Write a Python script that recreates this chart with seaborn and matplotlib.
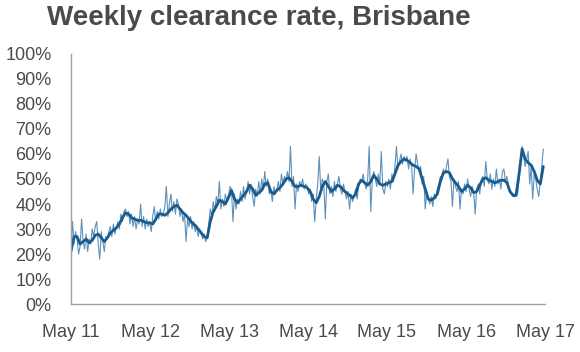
import pandas as pd
import matplotlib
matplotlib.use("Agg")
import matplotlib.pyplot as plt
from matplotlib.ticker import FuncFormatter, MultipleLocator
import seaborn as sns

# weekly clearance rate (%), one value per week from May 2011
weekly = [
    21, 33, 24, 29, 26, 20, 23, 34, 25, 22, 28, 21, 26,
    24, 30, 27, 31, 33, 24, 18, 29, 25, 21, 27, 26, 29,
    31, 27, 32, 28, 31, 33, 30, 36, 33, 37, 38, 35, 37,
    32, 36, 31, 35, 30, 34, 32, 40, 31, 35, 30, 34, 31,
    33, 29, 35, 39, 33, 37, 34, 38, 35, 36, 39, 47, 35,
    40, 44, 37, 41, 36, 42, 40, 35, 38, 33, 36, 25, 34,
    31, 35, 30, 33, 29, 31, 27, 30, 28, 26, 28, 25, 27,
    32, 38, 35, 41, 37, 43, 40, 49, 38, 42, 39, 44, 41,
    43, 47, 46, 33, 44, 38, 42, 40, 45, 41, 47, 42, 45,
    49, 44, 48, 43, 39, 46, 43, 49, 44, 50, 46, 53, 47,
    50, 44, 46, 41, 47, 44, 46, 49, 45, 52, 48, 51, 49,
    53, 49, 63, 47, 51, 38, 48, 45, 49, 47, 50, 46, 48,
    47, 44, 46, 41, 44, 33, 42, 48, 59, 45, 50, 48, 34,
    49, 52, 44, 47, 43, 49, 45, 48, 51, 46, 44, 48, 45,
    42, 45, 38, 44, 41, 43, 46, 42, 47, 50, 49, 52, 48,
    46, 50, 63, 37, 49, 53, 50, 47, 52, 48, 61, 46, 44,
    49, 47, 50, 46, 52, 49, 55, 63, 54, 57, 60, 56, 59,
    57, 59, 54, 58, 55, 44, 54, 60, 56, 53, 55, 48, 51,
    38, 45, 42, 40, 43, 39, 44, 42, 46, 48, 51, 50, 54,
    52, 55, 58, 51, 49, 39, 50, 47, 45, 49, 38, 46, 44,
    48, 45, 50, 46, 43, 47, 45, 36, 46, 48, 44, 49, 51,
    47, 57, 50, 48, 52, 46, 50, 47, 54, 48, 50, 46, 53,
    54, 49, 51, 47, 45, 44, 43, 43, 43, 44, 50, 57, 63,
    59, 55, 58, 61, 48, 55, 42, 52, 50, 46, 43, 49, 55, 62,
]

# smoothed trend (%), one value per fortnight
trend = [
    21, 27, 27, 24, 25, 26, 24.5, 25.5, 27.5, 28, 26.5, 25, 26.5, 28.5, 29.5, 30.5,
    32, 34.5, 36.5, 36, 34.5, 34, 33.5, 33.5, 33, 32.5, 32.5, 32, 34, 36, 36, 35.5,
    36.5, 38, 39, 39.5, 38, 36.5, 35.5, 34, 32.5, 31.5, 30, 28.5, 27, 26.5, 33, 37,
    39, 41.5, 41, 40, 42.5, 45.5, 42, 40.5, 42, 43.5, 45, 47.5, 46, 43.5, 44.5, 45.5,
    48, 48.5, 45, 44, 45.5, 46.5, 48, 50, 50.5, 49, 47, 47, 47.5, 47, 46.5, 45,
    42, 40.5, 43, 47, 49, 47, 45, 46, 47.5, 47, 45.5, 44.5, 43.5, 42.5, 44, 48,
    49.5, 48.5, 47.5, 49, 51.5, 50, 48, 47.5, 48, 48.5, 49, 52, 55.5, 57, 58, 57.5,
    56.5, 55.5, 55, 54, 50, 46, 42, 41.5, 42.5, 44, 49, 52.5, 53, 52.5, 50, 48.5,
    47, 45, 46, 47.5, 46.5, 44.5, 45, 47.5, 50, 50.5, 49.5, 49, 48.5, 49, 49.5, 49.5,
    48.5, 45, 43.5, 43.5, 52, 62, 58, 56.5, 55.5, 53, 49.5, 48, 55,
]

tick_years = [2011, 2012, 2013, 2014, 2015, 2016, 2017]
tick_labels = ["May 11", "May 12", "May 13", "May 14", "May 15", "May 16", "May 17"]

df_weekly = pd.DataFrame({
    "date": pd.date_range("2011-05-01", periods=len(weekly), freq="7D"),
    "rate": weekly,
})
df_trend = pd.DataFrame({
    "date": pd.date_range("2011-05-01", periods=len(trend), freq="14D"),
    "rate": trend,
})

sns.set_style("white")
plt.rcParams["font.family"] = ["Liberation Sans", "DejaVu Sans"]

fig = plt.figure(figsize=(5.8, 3.52), dpi=100)
ax = fig.add_axes([0.1224, 0.136, 0.8173, 0.711])

sns.lineplot(data=df_weekly, x="date", y="rate", ax=ax, color="#5d90bb", lw=0.8)
sns.lineplot(data=df_trend, x="date", y="rate", ax=ax, color="#185b8c", lw=2.0)

ticks = [pd.Timestamp(f"{y}-05-01") for y in tick_years]
ax.set_xlim(ticks[0], ticks[-1])
ax.set_xticks(ticks)
ax.set_xticklabels(tick_labels)
ax.set_ylim(0, 100)
ax.yaxis.set_major_locator(MultipleLocator(10))
ax.yaxis.set_major_formatter(FuncFormatter(lambda v, p: f"{v:.0f}%"))
ax.set_xlabel("")
ax.set_ylabel("")

for side in ["top", "right"]:
    ax.spines[side].set_visible(False)
for side in ["left", "bottom"]:
    ax.spines[side].set_color("#a0a0a0")
    ax.spines[side].set_linewidth(1.0)

ax.tick_params(axis="both", which="both", direction="out", length=4, width=1,
               color="#a0a0a0", labelsize=13, labelcolor="#4a4a4a")
ax.tick_params(axis="y", pad=10)
ax.tick_params(axis="x", pad=10)

fig.text(0.447, 0.949, "Weekly clearance rate, Brisbane", ha="center", va="center",
         fontsize=20, fontweight="bold", color="#4a4a4a")

fig.savefig("out.png", dpi=100)
